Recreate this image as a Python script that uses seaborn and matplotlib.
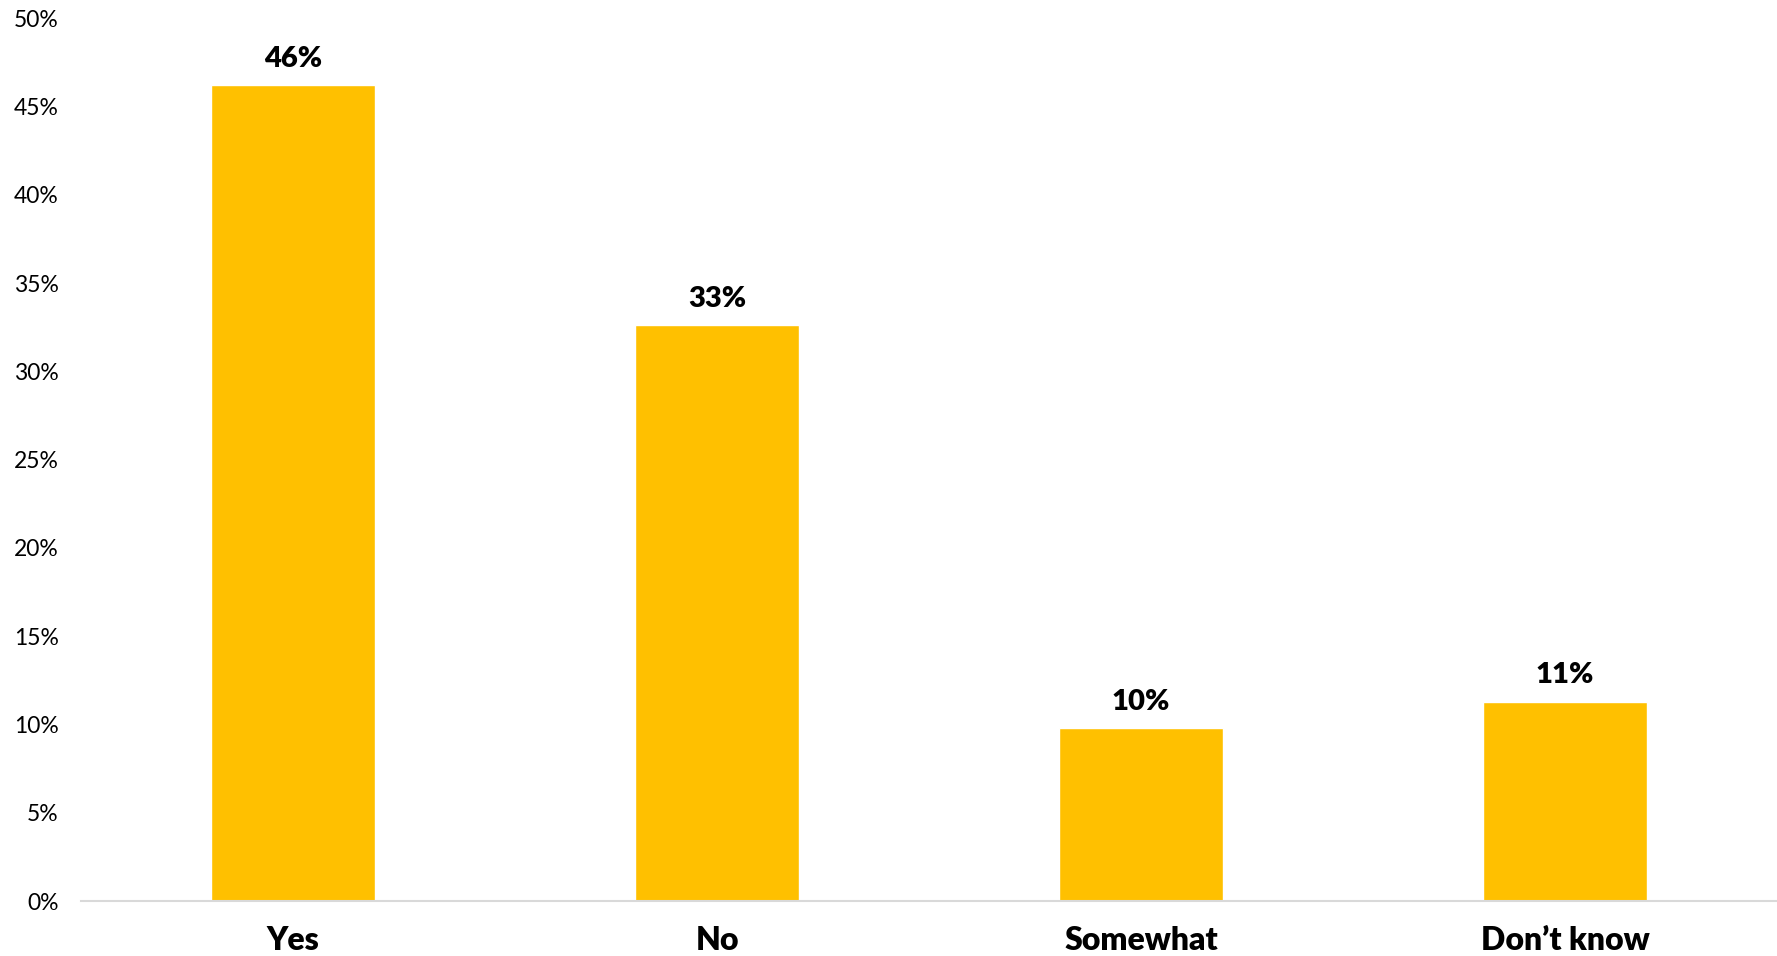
import matplotlib
matplotlib.use("Agg")
import matplotlib.pyplot as plt
import seaborn as sns
import pandas as pd
from matplotlib.ticker import PercentFormatter

# Survey answers and their shares
answers = ["Yes", "No", "Somewhat", "Don\u2019t know"]
shares = [0.462, 0.326, 0.098, 0.113]
share_labels = ["46%", "33%", "10%", "11%"]

df = pd.DataFrame({"answer": answers, "share": shares})

sns.set_theme(style="white")
plt.rcParams["font.family"] = ["Lato", "DejaVu Sans"]

fig = plt.figure(figsize=(17.77, 9.56), dpi=100)
ax = fig.add_axes([0.0456, 0.0575, 0.9544, 0.9235])

sns.barplot(data=df, x="answer", y="share", color="#FFC000", saturation=1,
            width=0.385, ax=ax)

for bar, lab in zip(ax.patches, share_labels):
    ax.text(bar.get_x() + bar.get_width() / 2, bar.get_height() + 0.0075, lab,
            ha="center", va="bottom", fontsize=21, fontweight="heavy", color="black")

ax.set_ylim(0, 0.5)
ax.set_yticks([i * 0.05 for i in range(11)])
ax.yaxis.set_major_formatter(PercentFormatter(1.0, decimals=0))
ax.set_xlim(-0.5, 3.5)
ax.set_xlabel("")
ax.set_ylabel("")
ax.tick_params(axis="y", labelsize=16.5, length=0, pad=16, labelcolor="black")
ax.tick_params(axis="x", labelsize=23, length=0, pad=18, labelcolor="black")
for t in ax.get_xticklabels():
    t.set_fontweight("heavy")

for s in ["top", "right", "left"]:
    ax.spines[s].set_visible(False)
ax.spines["bottom"].set_color("#D9D9D9")
ax.spines["bottom"].set_linewidth(1.5)

fig.savefig("out.png", dpi=100)
